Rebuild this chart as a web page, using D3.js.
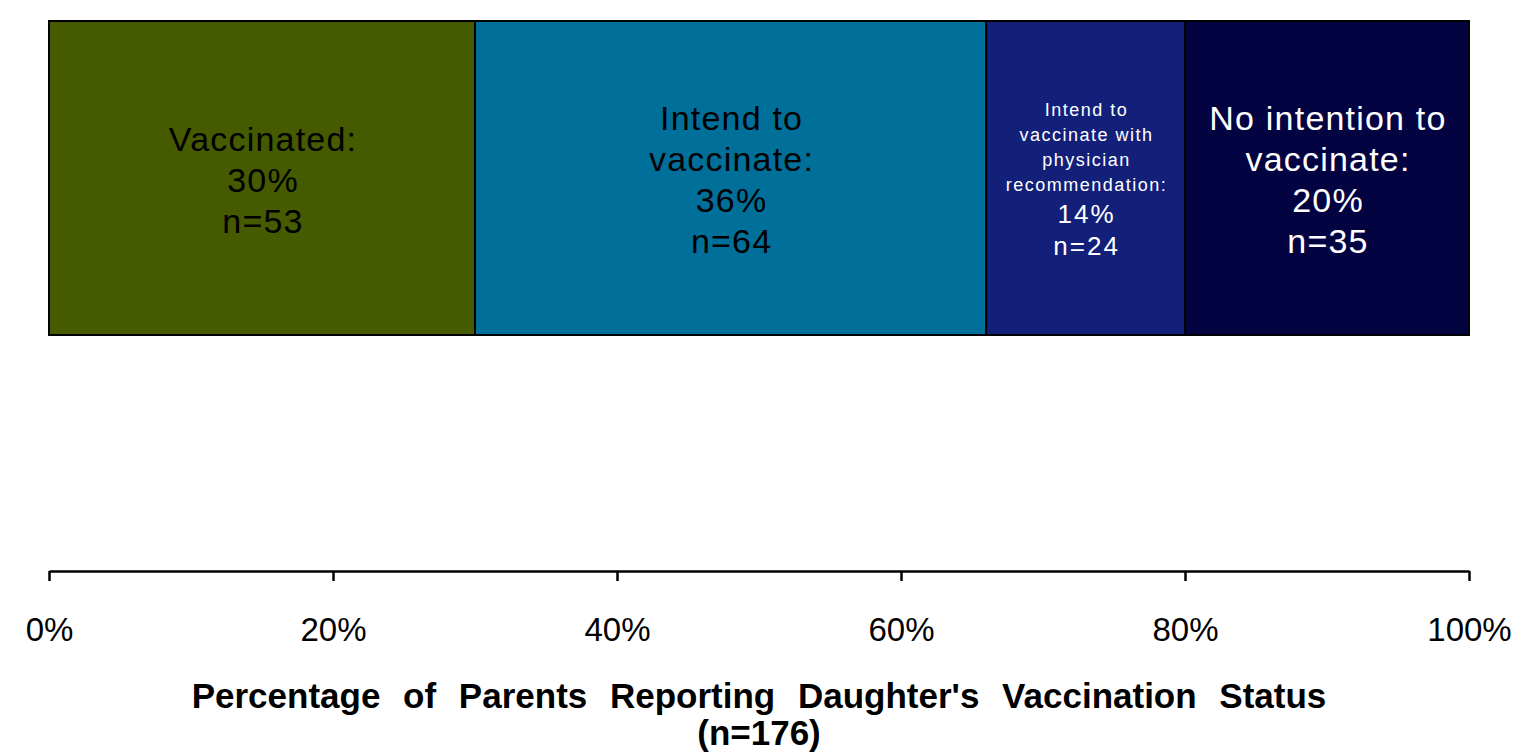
<!DOCTYPE html>
<html>
<head>
<meta charset="utf-8">
<script src="https://cdn.jsdelivr.net/npm/d3@7"></script>
<style>
  html, body { margin: 0; padding: 0; background: #ffffff; }
  svg { display: block; }
  text { font-family: "Liberation Sans", Arial, Helvetica, sans-serif; }
</style>
</head>
<body>
<svg id="chart" width="1516" height="756"></svg>
<script>
// ---- data ----
const categories = ["Vaccinated", "Intend to vaccinate", "Intend to vaccinate with physician recommendation", "No intention to vaccinate"];
const percents = [30, 36, 14, 20];
const counts = [53, 64, 24, 35];
const labelLines = [
  ["Vaccinated:"],
  ["Intend to", "vaccinate:"],
  ["Intend to", "vaccinate with", "physician", "recommendation:"],
  ["No intention to", "vaccinate:"]
];
const tickValues = [0, 20, 40, 60, 80, 100];
const tickLabels = ["0%", "20%", "40%", "60%", "80%", "100%"];
const titleLines = ["Percentage of Parents Reporting Daughter's Vaccination Status", "(n=176)"];

// ---- styles ----
const fills = ["#465a00", "#00709a", "#13207a", "#030342"];
const textColors = ["#000000", "#000000", "#ffffff", "#ffffff"];
const bigSize = [34, 34, 26, 34];
const smallSegment = 2;

const W = 1516, H = 756;
const svg = d3.select("#chart");

const x = d3.scaleLinear().domain([0, 100]).range([49, 1469]);
const barTop = 21, barBottom = 335;

// stacked cumulative
const starts = percents.map((d, i) => d3.sum(percents.slice(0, i)));
const segs = percents.map((p, i) => ({ i, start: starts[i], end: starts[i] + p }));

svg.append("g").selectAll("rect").data(segs).join("rect")
  .attr("x", d => x(d.start))
  .attr("y", barTop)
  .attr("width", d => x(d.end) - x(d.start))
  .attr("height", barBottom - barTop)
  .attr("fill", d => fills[d.i])
  .attr("stroke", "#000")
  .attr("stroke-width", 2);

// labels
const lineGap = { 34: 41, 26: 32, 18: 25 };
segs.forEach(s => {
  const i = s.i;
  const lines = [];
  const small = i === smallSegment;
  labelLines[i].forEach(t => lines.push({ t, size: small ? 18 : bigSize[i], ls: small ? 1.5 : 1.2 }));
  lines.push({ t: percents[i] + "%", size: bigSize[i], ls: small ? 2 : 1.2 });
  lines.push({ t: "n=" + counts[i], size: bigSize[i], ls: small ? 2 : 1.2 });
  let y = 0;
  lines.forEach((l, k) => {
    if (k > 0) y += lineGap[l.size];
    l.dy = y;
  });
  const capTop = -0.716 * lines[0].size;
  const blockCenter = (capTop + y) / 2;
  const cy = (barTop + barBottom) / 2 + 1.5;
  const cx = (x(s.start) + x(s.end)) / 2;
  const g = svg.append("g");
  g.selectAll("text").data(lines).join("text")
    .attr("x", cx + 1)
    .attr("y", l => cy - blockCenter + l.dy)
    .attr("text-anchor", "middle")
    .attr("font-size", l => l.size)
    .attr("letter-spacing", l => l.ls)
    .attr("fill", textColors[i])
    .text(l => l.t);
});

// axis
const axisY = 571;
const axis = d3.axisBottom(x).tickValues(tickValues).tickFormat((d, k) => tickLabels[k]).tickSize(10).tickSizeOuter(0);
const ga = svg.append("g").attr("transform", `translate(0,${axisY})`).call(axis);
ga.select(".domain").attr("stroke", "#000").attr("stroke-width", 2.5);
ga.selectAll(".tick line").attr("stroke", "#000").attr("stroke-width", 2.5);
ga.selectAll(".tick text")
  .attr("y", 70)
  .attr("dy", 0)
  .attr("fill", "#000")
  .attr("font-size", 33)
  .attr("font-family", "Liberation Sans, Arial, sans-serif");

// title
svg.append("g").selectAll("text").data(titleLines).join("text")
  .attr("x", (x(0) + x(100)) / 2)
  .attr("y", (d, k) => 708 + k * 37)
  .attr("text-anchor", "middle")
  .attr("font-size", 35)
  .attr("font-weight", "bold")
  .attr("word-spacing", 13)
  .attr("fill", "#000")
  .text(d => d);
</script>
</body>
</html>
